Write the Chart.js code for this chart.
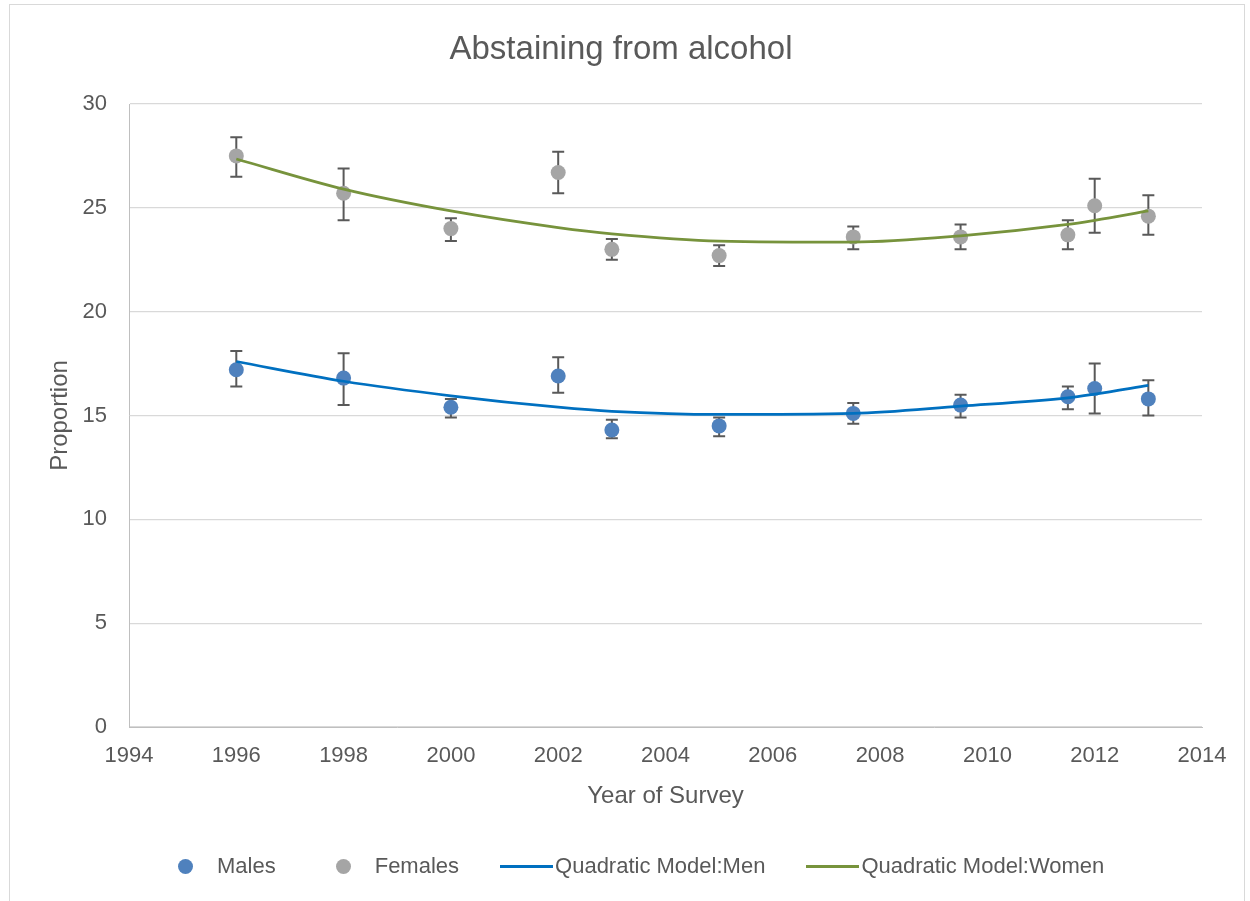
<!DOCTYPE html>
<html>
<head>
<meta charset="utf-8">
<script src="https://cdn.jsdelivr.net/npm/chart.js@4/dist/chart.umd.min.js"></script>
<style>
  html, body { margin:0; padding:0; background:#fff; width:1250px; height:901px; overflow:hidden; }
  #frame { position:absolute; left:9px; top:4px; width:1236px; height:930px; border:1px solid #d9d9d9; box-sizing:border-box; }
  #wrap { position:absolute; left:0; top:0; width:1250px; height:901px; }
  #legend { position:absolute; top:852px; left:178px; height:28px; display:flex; align-items:center;
            font:22px "Liberation Sans", Arial, sans-serif; color:#595959; white-space:nowrap; }
  #legend .item { display:flex; align-items:center; }
  #legend .dot { width:15px; height:15px; border-radius:50%; margin-right:24px; }
  #legend .ln { width:53px; height:3px; margin-right:2px; }
  #legend .item:nth-child(2) { margin-left:60px; }
  #legend .item:nth-child(3) { margin-left:41px; }
  #legend .item:nth-child(4) { margin-left:41px; }
</style>
</head>
<body>
<div id="frame"></div>
<div id="wrap"><canvas id="c" width="1250" height="901"></canvas></div>
<div id="legend"></div>
<script>
// ---- data ----
const surveyYears = [1996, 1998, 2000, 2002, 2003, 2005, 2007.5, 2009.5, 2011.5, 2012, 2013];

const males      = [17.2, 16.8, 15.4, 16.9, 14.3, 14.5, 15.1, 15.5, 15.9, 16.3, 15.8];
const malesHigh  = [18.1, 18.0, 15.8, 17.8, 14.8, 14.9, 15.6, 16.0, 16.4, 17.5, 16.7];
const malesLow   = [16.4, 15.5, 14.9, 16.1, 13.9, 14.0, 14.6, 14.9, 15.3, 15.1, 15.0];

const females     = [27.5, 25.7, 24.0, 26.7, 23.0, 22.7, 23.6, 23.6, 23.7, 25.1, 24.6];
const femalesHigh = [28.4, 26.9, 24.5, 27.7, 23.5, 23.2, 24.1, 24.2, 24.4, 26.4, 25.6];
const femalesLow  = [26.5, 24.4, 23.4, 25.7, 22.5, 22.2, 23.0, 23.0, 23.0, 23.8, 23.7];

const modelMen   = [17.6, 16.65, 15.95, 15.4, 15.2, 15.05, 15.1, 15.45, 15.85, 16.03, 16.45];
const modelWomen = [27.35, 25.9, 24.85, 24.05, 23.75, 23.4, 23.35, 23.65, 24.2, 24.4, 24.85];

const xTickValues = [1994, 1996, 1998, 2000, 2002, 2004, 2006, 2008, 2010, 2012, 2014];
const yTickValues = [0, 5, 10, 15, 20, 25, 30];

const chartTitle = 'Abstaining from alcohol';
const xTitle = 'Year of Survey';
const yTitle = 'Proportion';
const seriesNames = ['Males', 'Females', 'Quadratic Model:Men', 'Quadratic Model:Women'];

// ---- build ----
const pts = (ys) => surveyYears.map((x, i) => ({ x: x, y: ys[i] }));
const FONT = '"Liberation Sans", Arial, sans-serif';
const TXT = '#595959';

const errorBars = {
  id: 'errorBars',
  beforeDatasetsDraw(chart) {
    const { ctx, scales: { x, y } } = chart;
    ctx.save();
    ctx.strokeStyle = '#595959';
    ctx.lineWidth = 2;
    chart.data.datasets.forEach((ds, di) => {
      if (!ds.errLow || !chart.isDatasetVisible(di)) return;
      ds.data.forEach((p, i) => {
        const px = x.getPixelForValue(p.x);
        const top = y.getPixelForValue(ds.errHigh[i]);
        const bot = y.getPixelForValue(ds.errLow[i]);
        ctx.beginPath();
        ctx.moveTo(px, top); ctx.lineTo(px, bot);
        ctx.moveTo(px - 6, top); ctx.lineTo(px + 6, top);
        ctx.moveTo(px - 6, bot); ctx.lineTo(px + 6, bot);
        ctx.stroke();
      });
    });
    ctx.restore();
  }
};

const chart = new Chart(document.getElementById('c'), {
  type: 'scatter',
  data: {
    datasets: [
      { label: seriesNames[0], data: pts(males), errLow: malesLow, errHigh: malesHigh,
        backgroundColor: '#4F81BD', borderWidth: 0, pointRadius: 7.5, pointHoverRadius: 7.5, showLine: false, order: 2 },
      { label: seriesNames[1], data: pts(females), errLow: femalesLow, errHigh: femalesHigh,
        backgroundColor: '#A5A5A5', borderWidth: 0, pointRadius: 7.5, pointHoverRadius: 7.5, showLine: false, order: 2 },
      { label: seriesNames[2], data: pts(modelMen), showLine: true, pointRadius: 0, borderColor: '#0070C0',
        backgroundColor: '#0070C0', borderWidth: 2.75, cubicInterpolationMode: 'monotone', order: 0 },
      { label: seriesNames[3], data: pts(modelWomen), showLine: true, pointRadius: 0, borderColor: '#77933C',
        backgroundColor: '#77933C', borderWidth: 2.75, cubicInterpolationMode: 'monotone', order: 0 }
    ]
  },
  options: {
    responsive: false,
    animation: false,
    devicePixelRatio: 1,
    layout: { padding: { left: 40, right: 48, top: 12, bottom: 84 } },
    plugins: {
      legend: { display: false },
      tooltip: { enabled: false },
      title: { display: true, text: chartTitle, color: TXT,
               font: { family: FONT, size: 33, weight: 'normal' }, padding: { top: 18, bottom: 34.4 } }
    },
    scales: {
      x: {
        type: 'linear', min: 1994, max: 2014,
        afterBuildTicks: (s) => { s.ticks = xTickValues.map(v => ({ value: v })); },
        afterFit: (s) => { s.height = 90; },
        ticks: { callback: (v) => String(v), color: TXT, font: { family: FONT, size: 22 }, padding: 16,
                 maxRotation: 0, autoSkip: false },
        grid: { display: false, drawTicks: false },
        border: { display: true, color: '#bfbfbf', width: 1 },
        title: { display: true, text: xTitle, color: TXT, font: { family: FONT, size: 24 },
                 padding: { top: 0, bottom: 6 } }
      },
      y: {
        min: 0, max: 30,
        afterBuildTicks: (s) => { s.ticks = yTickValues.map(v => ({ value: v })); },
        afterFit: (s) => { s.width = 89; },
        ticks: { color: TXT, font: { family: FONT, size: 22 }, padding: 22 },
        grid: { color: '#d9d9d9', lineWidth: 1.3, drawTicks: false },
        border: { display: true, color: '#bfbfbf', width: 1 },
        title: { display: true, text: yTitle, color: TXT, font: { family: FONT, size: 24 },
                 padding: { top: 6, bottom: 0 } }
      }
    }
  },
  plugins: [errorBars]
});

// HTML legend built from the chart's datasets
const legend = document.getElementById('legend');
chart.data.datasets.forEach((ds) => {
  const item = document.createElement('span');
  item.className = 'item';
  const sym = document.createElement('span');
  if (ds.showLine) { sym.className = 'ln'; sym.style.background = ds.borderColor; }
  else { sym.className = 'dot'; sym.style.background = ds.backgroundColor; }
  const txt = document.createElement('span');
  txt.textContent = ds.label;
  item.appendChild(sym); item.appendChild(txt);
  legend.appendChild(item);
});
</script>
</body>
</html>
